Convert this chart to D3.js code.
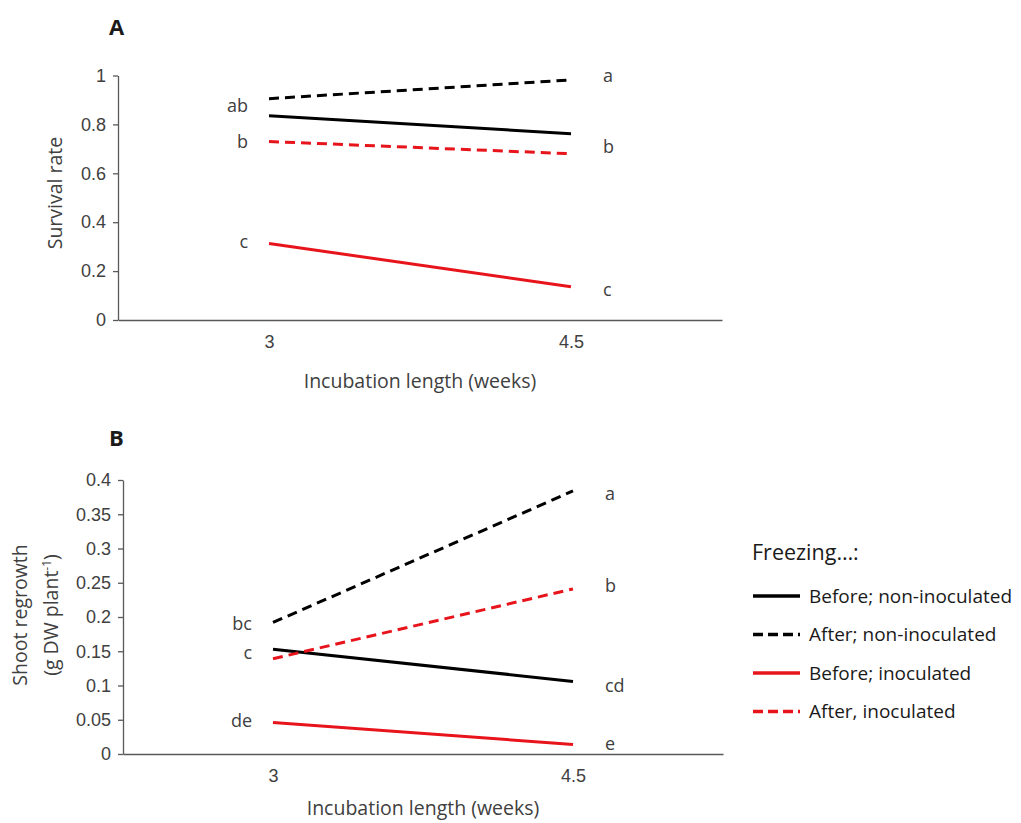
<!DOCTYPE html>
<html>
<head>
<meta charset="utf-8">
<script src="https://cdn.jsdelivr.net/npm/d3@7"></script>
<style>
  body { margin: 0; background: #fff; }
  svg { font-family: "Open Sans", "Liberation Sans", sans-serif; }
  .axis path, .axis line { stroke: #595959; stroke-width: 1.3; }
  .axis text { fill: #404040; font-size: 18px; }
  .lbl { fill: #404040; font-size: 18px; }
  .ttl { fill: #404040; font-size: 19.5px; }
</style>
</head>
<body>
<svg id="chart"></svg>
<script>
// categories (incubation length, weeks)
const weeks = ['3', '4.5'];

// series names
const seriesNames = ['Before; non-inoculated', 'After; non-inoculated', 'Before; inoculated', 'After, inoculated'];

// A: survival rate
const survBeforeNon = [0.835, 0.762];
const survAfterNon = [0.905, 0.982];
const survBeforeInoc = [0.313, 0.136];
const survAfterInoc = [0.730, 0.680];

// B: shoot regrowth (g DW plant-1)
const regrBeforeNon = [0.153, 0.106];
const regrAfterNon = [0.192, 0.384];
const regrBeforeInoc = [0.046, 0.014];
const regrAfterInoc = [0.139, 0.241];

// letters of significance
const lettersA = [
  { week: '3', v: 0.875, t: 'ab' }, { week: '3', v: 0.73, t: 'b' }, { week: '3', v: 0.32, t: 'c' },
  { week: '4.5', v: 1.0, t: 'a' }, { week: '4.5', v: 0.71, t: 'b' }, { week: '4.5', v: 0.125, t: 'c' }
];
const lettersB = [
  { week: '3', v: 0.19, t: 'bc' }, { week: '3', v: 0.148, t: 'c' }, { week: '3', v: 0.048, t: 'de' },
  { week: '4.5', v: 0.38, t: 'a' }, { week: '4.5', v: 0.245, t: 'b' }, { week: '4.5', v: 0.1, t: 'cd' }, { week: '4.5', v: 0.015, t: 'e' }
];

const yTicksA = [0, 0.2, 0.4, 0.6, 0.8, 1];
const yTicksB = [0, 0.05, 0.1, 0.15, 0.2, 0.25, 0.3, 0.35, 0.4];

const colors = ['#000000', '#000000', '#e8141c', '#e8141c'];
const dashes = [null, '10,6', null, '10,6'];

const svg = d3.select('#chart').attr('width', 1021).attr('height', 823);

function panel(opts) {
  const x = d3.scalePoint().domain(weeks).range([opts.left, opts.right]).padding(0.5);
  const y = d3.scaleLinear().domain(opts.yDomain).range([opts.bottom, opts.top]);
  const g = svg.append('g');

  g.append('g').attr('class', 'axis')
    .attr('transform', `translate(${opts.left},0)`)
    .call(d3.axisLeft(y).tickValues(opts.ticks).tickSize(5).tickSizeOuter(0).tickFormat(d => d3.format('')(d)))
    .call(a => a.selectAll('text').attr('dx', -4));

  g.append('g').attr('class', 'axis')
    .attr('transform', `translate(0,${opts.bottom})`)
    .call(d3.axisBottom(x).tickSize(0).tickSizeOuter(0))
    .call(a => a.selectAll('text').attr('y', 0).attr('dy', '1.58em'));

  const line = d3.line().x((d, i) => x(weeks[i])).y(d => y(d));
  opts.series.forEach((s, i) => {
    g.append('path')
      .attr('d', line(s))
      .attr('fill', 'none')
      .attr('stroke', colors[i])
      .attr('stroke-width', 3)
      .attr('stroke-dasharray', dashes[i]);
  });

  opts.letters.forEach(l => {
    const left = l.week === weeks[0];
    g.append('text').attr('class', 'lbl')
      .attr('x', x(l.week) + (left ? -21 : 32))
      .attr('y', y(l.v))
      .attr('dy', '0.35em')
      .attr('text-anchor', left ? 'end' : 'start')
      .text(l.t);
  });

  g.append('text').attr('class', 'ttl')
    .attr('x', (opts.left + opts.right) / 2)
    .attr('y', opts.bottom + opts.titleGap)
    .attr('text-anchor', 'middle')
    .text('Incubation length (weeks)');

  g.append('text')
    .attr('x', 109).attr('y', opts.panelY)
    .attr('font-size', 22).attr('font-weight', 'bold')
    .attr('fill', '#1a1a1a')
    .text(opts.panel);
  return g;
}

panel({
  panel: 'A', panelY: 35, left: 118, right: 722, top: 75.5, bottom: 320, titleGap: 68,
  yDomain: [0, 1], ticks: yTicksA,
  series: [survBeforeNon, survAfterNon, survBeforeInoc, survAfterInoc],
  letters: lettersA
});
svg.append('text').attr('class', 'ttl')
  .attr('transform', 'translate(62,193) rotate(-90)')
  .attr('font-size', 20)
  .attr('text-anchor', 'middle')
  .text('Survival rate');

panel({
  panel: 'B', panelY: 446, left: 123, right: 723, top: 480, bottom: 754, titleGap: 61,
  yDomain: [0, 0.4], ticks: yTicksB,
  series: [regrBeforeNon, regrAfterNon, regrBeforeInoc, regrAfterInoc],
  letters: lettersB
});
const yt = svg.append('text').attr('class', 'ttl')
  .attr('transform', 'translate(0,615) rotate(-90)')
  .attr('font-size', 18.5)
  .attr('text-anchor', 'middle');
yt.append('tspan').attr('x', 0).attr('y', 27).text('Shoot regrowth');
const t2 = yt.append('tspan').attr('x', 0).attr('y', 58).text('(g DW plant');
t2.append('tspan').attr('font-size', 12).attr('dy', -7).text('-1');
yt.append('tspan').attr('dy', 7).text(')');

// legend
const leg = svg.append('g').attr('transform', 'translate(752,0)');
leg.append('text').attr('x', 0).attr('y', 560)
  .attr('font-size', 21.5).attr('fill', '#1a1a1a').text('Freezing…:');
seriesNames.forEach((n, i) => {
  const yy = 596 + i * 38.5;
  leg.append('line')
    .attr('x1', 1).attr('x2', 48).attr('y1', yy).attr('y2', yy)
    .attr('stroke', colors[i]).attr('stroke-width', 3.5)
    .attr('stroke-dasharray', dashes[i] ? '10,5' : null);
  leg.append('text').attr('x', 57).attr('y', yy).attr('dy', '0.35em')
    .attr('font-size', 19).attr('fill', '#1a1a1a').text(n);
});
</script>
</body>
</html>
